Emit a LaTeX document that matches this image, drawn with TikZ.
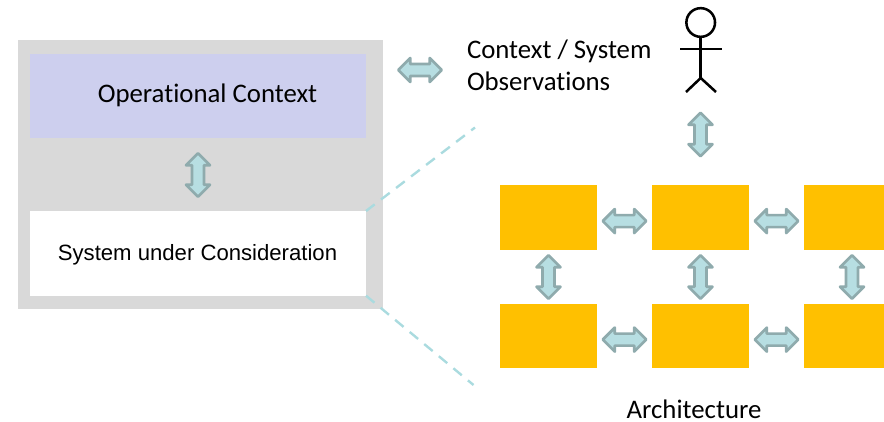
\documentclass[tikz,border=0pt]{standalone}
\usepackage{fontspec}
\setmainfont{Carlito}[Ligatures=CommonOff]
\newfontfamily\arialfont{Liberation Sans}
\usetikzlibrary{shapes.arrows,calc}
\definecolor{greybg}{HTML}{D9D9D9}
\definecolor{lilac}{HTML}{CDCFEE}
\definecolor{amber}{HTML}{FFC000}
\definecolor{arrowfill}{HTML}{B7DEE2}
\definecolor{arrowline}{HTML}{8FABAD}
\definecolor{dashcol}{HTML}{AADBDF}
\tikzset{
  x=0.75pt,y=-0.75pt,
  flat/.style={rectangle,draw=none,inner sep=0pt,outer sep=0pt},
  block/.style={flat,fill=amber,anchor=north west},
  darrow/.style={double arrow,draw=arrowline,fill=arrowfill,line width=2pt,line join=round,
    minimum height=32.6pt,inner xsep=0pt,inner ysep=3.5pt,
    double arrow head extend=4.5pt,outer sep=0pt,anchor=center},
  varrow/.style={darrow,rotate=90},
  zoomline/.style={draw=dashcol,line width=1.8pt,dash pattern=on 8.2pt off 6pt},
  stick/.style={draw=black,line width=1.9pt},
  label/.style={inner sep=0pt,outer sep=0pt,font=\fontsize{20.1}{24}\selectfont}
}
\begin{document}
\begin{tikzpicture}
\useasboundingbox (0,0) rectangle (884,421);
\node[flat,fill=greybg,anchor=north west,minimum width=273.75pt,minimum height=201.75pt] (outer) at (18,40) {};
\node[flat,fill=lilac,anchor=north west,minimum width=252pt,minimum height=63pt] (ctx) at (30,54) {};
\node[label,anchor=base] at (207.5,102.6) {Operational Context};
\node[flat,fill=white,anchor=north west,minimum width=252pt,minimum height=63.5pt] (sys) at (30,211) {};
\node[inner sep=0pt,anchor=base,font=\arialfont\fontsize{16.6}{20}\selectfont] at (197.5,260.5) {System under Consideration};
\node[varrow] (a0) at (198,175) {};
\node[darrow] (a1) at (420,70) {};
\node[label,anchor=base west] (t1) at (467,58.6) {Context / System};
\node[label,anchor=base west] (t2) at (467,90.6) {Observations};
\coordinate (zt) at (475,127.5);
\coordinate (zb) at (473.5,385);
\draw[zoomline] (sys.north east) -- (zt);
\draw[zoomline] (sys.south east) -- (zb);
% stick figure
\node[circle,stick,minimum size=21.5pt,inner sep=0pt,outer sep=0pt] (head) at (700.7,22.5) {};
\coordinate (hip) at (700.7,78);
\coordinate (al) at (680,49);
\coordinate (ar) at (722,49);
\coordinate (ll) at (686,92);
\coordinate (lr) at (716,92);
\draw[stick] (head.south) -- (hip);
\draw[stick] (al) -- (ar);
\draw[stick] (ll) -- (hip) -- (lr);
\node[varrow] (a2) at (700.5,134.5) {};
% blocks
\foreach \n/\x/\y/\w/\h in {b1/500/185/72.75/48.75,b2/652/185/72.75/48.75,b3/804/185/60/48.75,
                            b4/500/304/72.75/48,b5/652/304/72.75/48,b6/804/304/60/48}{
  \node[block,minimum width=\w pt,minimum height=\h pt] (\n) at (\x,\y) {};
}
\node[darrow,yshift=-2.7pt] at ($(b1.east)!.5!(b2.west)$) {};
\node[darrow,yshift=-2.7pt] at ($(b2.east)!.5!(b3.west)$) {};
\node[darrow,yshift=-2.7pt] at ($(b4.east)!.5!(b5.west)$) {};
\node[darrow,yshift=-2.7pt] at ($(b5.east)!.5!(b6.west)$) {};
\node[varrow] at ($(b1.south)!.5!(b4.north)$) {};
\node[varrow] at ($(b2.south)!.5!(b5.north)$) {};
\node[varrow] at (852,277) {};
\node[label,anchor=base] at (694,418) {Architecture};
\end{tikzpicture}
\end{document}
